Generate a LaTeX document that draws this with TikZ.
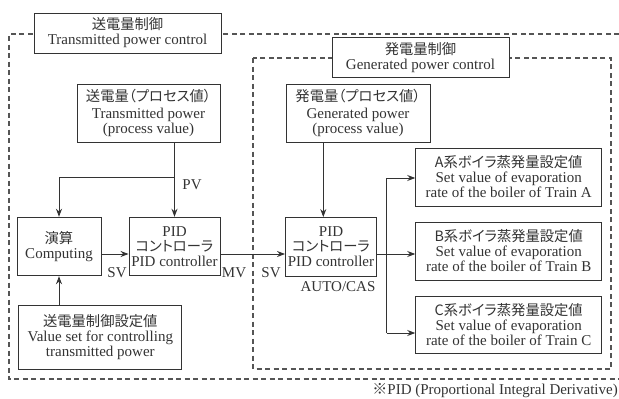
\documentclass[tikz,border=0pt]{standalone}
\usepackage{fontspec}
\setmainfont{Liberation Serif}
\newfontfamily\cjk[RawFeature=+palt]{Noto Sans CJK JP}
\usetikzlibrary{arrows.meta,calc}
\definecolor{ink}{HTML}{333333}
\definecolor{dashc}{HTML}{555555}
\newcommand\jp[1]{{\cjk\fontsize{14.3}{15}\selectfont #1}}
\tikzset{
  box/.style={draw=ink, line width=0.9pt, fill=white, align=center, inner sep=0pt,
    text=ink, font=\fontsize{15}{15}\selectfont},
  grp/.style={draw=dashc, line width=1.1pt, dash pattern=on 5pt off 3.5pt},
  conn/.style={draw=ink, line width=0.9pt, -{Stealth[length=8pt,width=6pt]}},
  plain/.style={draw=ink, line width=0.9pt},
  lbl/.style={text=ink, inner sep=0pt, font=\fontsize{15}{15}\selectfont},
}
\begin{document}
\begin{tikzpicture}[x=1pt,y=-1pt]
\useasboundingbox (0,0) rectangle (619,399);
% group frames
\draw[grp] (619,34) -- (9,34) -- (9,379) -- (619,379);
\draw[grp] (253,58) rectangle (611,369);
% title boxes
\node[box, minimum width=187pt, minimum height=40pt] (t1) at (127.5,33)
  {\jp{送電量制御}\\ Transmitted power control};
\node[box, minimum width=177pt, minimum height=40pt] (t2) at (420.5,57.5)
  {\jp{発電量制御}\\ Generated power control};
% process value boxes
\node[box, minimum width=143pt, minimum height=58pt] (tp) at (148.5,113)
  {\jp{送電量（プロセス値）}\\[2pt] Transmitted power\\ (process value)};
\node[box, minimum width=144pt, minimum height=58pt] (gp) at (358,113)
  {\jp{発電量（プロセス値）}\\[2pt] Generated power\\ (process value)};
% middle row
\node[box, minimum width=84pt, minimum height=58.5pt] (comp) at (59,246.5)
  {\jp{演算}\\ Computing};
\node[box, minimum width=91pt, minimum height=58.5pt] (pid1) at (174.5,246.5)
  {PID\\ \jp{コントローラ}\\ PID controller};
\node[box, minimum width=91pt, minimum height=59pt] (pid2) at (331,247)
  {PID\\ \jp{コントローラ}\\ PID controller};
\node[box, minimum width=163pt, minimum height=64pt] (sv) at (100.3,337)
  {\jp{送電量制御設定値}\\ Value set for controlling\\ transmitted power};
% train boxes
\node[box, minimum width=186pt, minimum height=58pt] (ta) at (508.7,177)
  {\jp{A系ボイラ蒸発量設定値}\\ Set value of evaporation\\ rate of the boiler of Train A};
\node[box, minimum width=186pt, minimum height=58pt] (tb) at (508.7,251)
  {\jp{B系ボイラ蒸発量設定値}\\ Set value of evaporation\\ rate of the boiler of Train B};
\node[box, minimum width=186pt, minimum height=57pt] (tc) at (508.7,324.5)
  {\jp{C系ボイラ蒸発量設定値}\\ Set value of evaporation\\ rate of the boiler of Train C};
% connectors
\coordinate (br) at (174.5,177.3);
\draw[conn] (tp.south -| pid1.north) -- (pid1.north);
\draw[conn] (br) -- (br -| comp.north) -- (comp.north);
\draw[conn] (comp.east |- 0,254) -- (pid1.west |- 0,254);
\draw[conn] (pid1.east |- 0,254) -- (pid2.west |- 0,254);
\draw[conn] (comp.south |- sv.north) -- (comp.south);
\draw[conn] (gp.south -| 323.3,0) -- (pid2.north -| 323.3,0);
\coordinate (sp) at (386.7,254);
\draw[plain] (pid2.east |- sp) -- (sp);
\draw[plain] (sp |- 0,178) -- (sp |- 0,333);
\draw[conn] (sp |- 0,178) -- (ta.west |- 0,178);
\draw[conn] (sp) -- (tb.west |- sp);
\draw[conn] (sp |- 0,333) -- (tc.west |- 0,333);
% labels
\node[lbl] (pv) at (192,185) {PV};
\node[lbl] (sv1) at (117,273) {SV};
\node[lbl] (mv) at (234,273) {MV};
\node[lbl] (sv2) at (271,273) {SV};
\node[lbl] (ac) at (338,287) {AUTO/CAS};
\node[lbl, anchor=east] (fn) at (618,391) {{\cjk ※}PID (Proportional Integral Derivative)};
\end{tikzpicture}
\end{document}
